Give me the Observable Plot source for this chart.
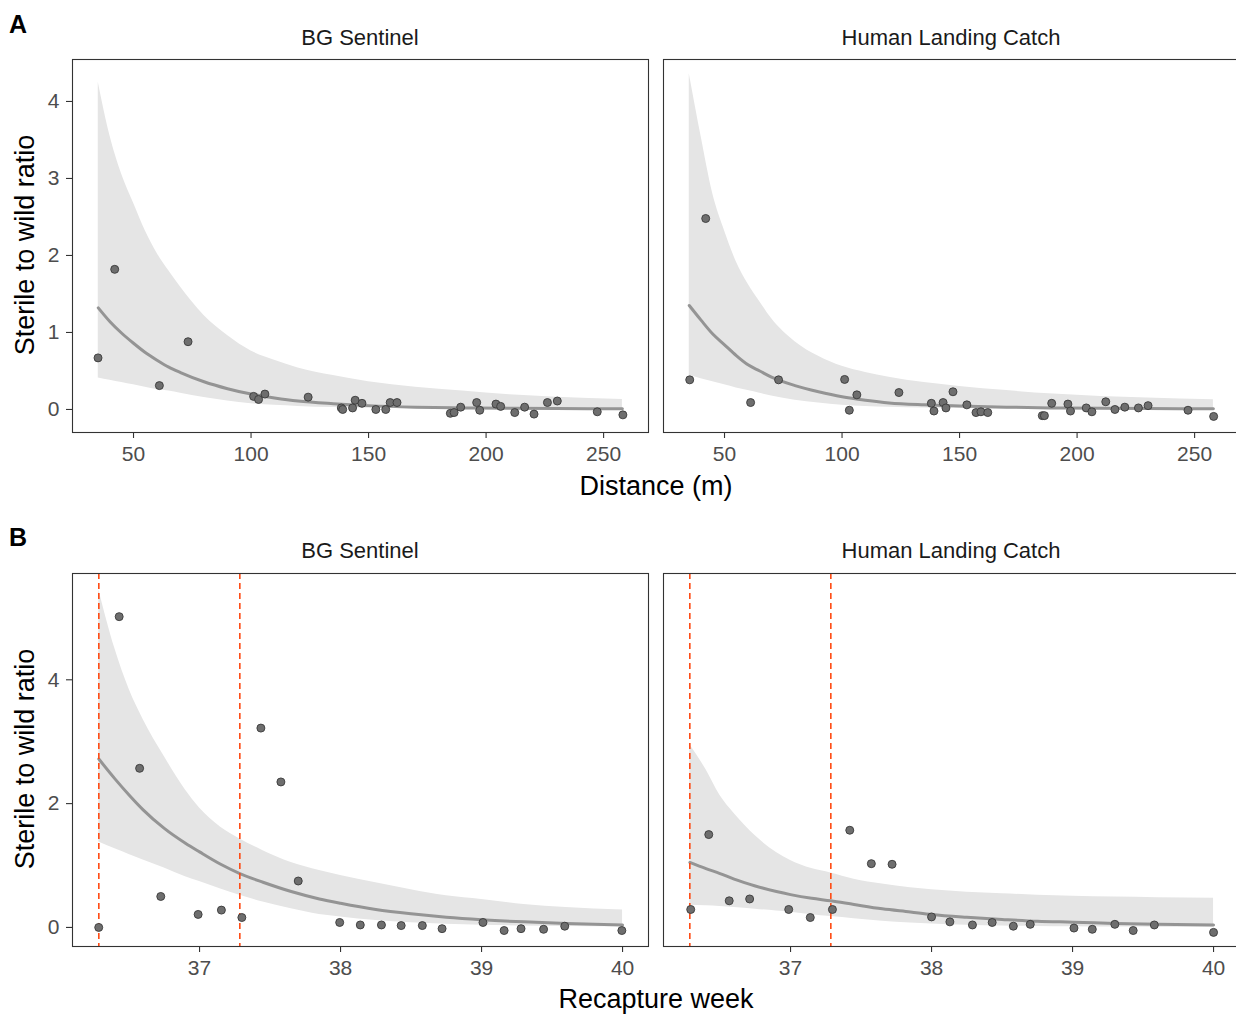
<!DOCTYPE html>
<html>
<head>
<meta charset="utf-8">
<script src="https://cdn.jsdelivr.net/npm/d3@7"></script>
<script src="https://cdn.jsdelivr.net/npm/@observablehq/plot@0.6"></script>
<style>
  html, body { margin: 0; padding: 0; background: #fff; }
  #wrap { position: relative; width: 1236px; height: 1014px; overflow: hidden; background: #fff;
          font-family: "Liberation Sans", Arial, Helvetica, sans-serif; }
  .abs { position: absolute; white-space: nowrap; line-height: 1; }
  .c { transform: translate(-50%, -50%); }
  .strip { font-size: 22px; color: #1a1a1a; }
  .tag { font-size: 25px; font-weight: bold; color: #000; transform: translate(0, -50%); }
  .xt { font-size: 27px; color: #000; }
  .yt { font-size: 27px; color: #000; transform: translate(-50%, -50%) rotate(-90deg); }
</style>
</head>
<body>
<div id="wrap"></div>
<script>
// ---------- Panel A data: distance (m) vs sterile:wild ratio ----------
const facets = ["BG Sentinel", "Human Landing Catch"];

const distBG = [34.9, 42.0, 61.0, 73.2, 101.1, 103.2, 105.9, 124.3, 138.4, 139.0, 143.2, 144.3, 147.2, 153.1, 157.3, 159.2, 162.1, 184.8, 186.4, 189.2, 196.0, 197.3, 204.2, 206.2, 212.2, 216.4, 220.4, 226.1, 230.3, 247.3, 258.2];
const ratioDistBG = [0.67, 1.82, 0.31, 0.88, 0.17, 0.13, 0.20, 0.16, 0.02, 0.00, 0.02, 0.12, 0.08, 0.00, 0.00, 0.09, 0.09, -0.05, -0.04, 0.03, 0.09, -0.01, 0.07, 0.04, -0.04, 0.03, -0.06, 0.09, 0.11, -0.03, -0.07];

const distHLC = [35.2, 42.0, 61.1, 73.0, 101.1, 103.1, 106.3, 124.2, 138.0, 139.1, 143.0, 144.2, 147.2, 153.1, 157.0, 159.1, 162.0, 185.2, 186.1, 189.2, 196.1, 197.2, 203.9, 206.3, 212.2, 216.1, 220.3, 226.1, 230.2, 247.2, 258.1];
const ratioDistHLC = [0.385, 2.48, 0.09, 0.385, 0.39, -0.01, 0.19, 0.22, 0.08, -0.02, 0.09, 0.02, 0.23, 0.06, -0.04, -0.03, -0.04, -0.08, -0.08, 0.08, 0.07, -0.02, 0.02, -0.03, 0.10, 0.00, 0.03, 0.02, 0.05, -0.01, -0.09];

// fitted curve and confidence band
const fitDist   = [35, 40, 45, 50, 55, 60, 65, 70, 80, 90, 100, 110, 120, 135, 150, 170, 190, 210, 230, 258];
const fitDistBG   = [1.32, 1.14, 0.99, 0.86, 0.74, 0.64, 0.55, 0.48, 0.36, 0.27, 0.20, 0.15, 0.11, 0.075, 0.05, 0.03, 0.02, 0.015, 0.012, 0.01];
const loDistBG    = [0.41, 0.38, 0.35, 0.32, 0.29, 0.26, 0.24, 0.21, 0.155, 0.11, 0.075, 0.055, 0.04, 0.025, 0.015, 0.008, 0.005, 0.003, 0.002, 0.001];
const hiDistBG    = [4.25, 3.55, 3.05, 2.68, 2.32, 2.03, 1.80, 1.59, 1.22, 0.96, 0.76, 0.64, 0.54, 0.44, 0.36, 0.29, 0.24, 0.19, 0.16, 0.13];
const fitDistHLC  = [1.35, 1.16, 0.98, 0.84, 0.70, 0.58, 0.50, 0.42, 0.31, 0.23, 0.165, 0.12, 0.085, 0.06, 0.045, 0.03, 0.02, 0.015, 0.012, 0.01];
const loDistHLC   = [0.44, 0.40, 0.36, 0.32, 0.28, 0.245, 0.21, 0.175, 0.12, 0.085, 0.055, 0.04, 0.028, 0.018, 0.012, 0.007, 0.004, 0.003, 0.002, 0.001];
const hiDistHLC   = [4.36, 3.55, 2.80, 2.32, 1.92, 1.63, 1.40, 1.18, 0.88, 0.69, 0.56, 0.48, 0.42, 0.35, 0.30, 0.245, 0.20, 0.17, 0.15, 0.125];

const distTicks = [50, 100, 150, 200, 250];
const distYTicks = [0, 1, 2, 3, 4];

// ---------- Panel B data: recapture week vs sterile:wild ratio ----------
const weekBG = [36.285, 36.43, 36.575, 36.725, 36.99, 37.155, 37.30, 37.435, 37.577, 37.70, 37.994, 38.14, 38.29, 38.43, 38.58, 38.72, 39.01, 39.16, 39.28, 39.44, 39.59, 39.995];
const ratioWeekBG = [0.00, 5.02, 2.57, 0.50, 0.21, 0.28, 0.16, 3.22, 2.35, 0.75, 0.08, 0.04, 0.04, 0.03, 0.03, -0.02, 0.08, -0.05, -0.02, -0.03, 0.02, -0.05];

const weekHLC = [36.292, 36.42, 36.565, 36.71, 36.987, 37.14, 37.297, 37.42, 37.573, 37.72, 38.0, 38.13, 38.29, 38.43, 38.58, 38.70, 39.01, 39.14, 39.30, 39.43, 39.58, 40.0];
const ratioWeekHLC = [0.29, 1.50, 0.43, 0.46, 0.29, 0.16, 0.29, 1.57, 1.03, 1.02, 0.17, 0.09, 0.04, 0.08, 0.02, 0.05, -0.01, -0.03, 0.05, -0.05, 0.04, -0.08];

const fitWeek = [36.2857, 36.4, 36.5, 36.6, 36.75, 36.9, 37.0, 37.15, 37.2857, 37.45, 37.65, 37.85, 38.0, 38.25, 38.5, 38.75, 39.0, 39.3, 39.6, 40.0];
const fitWeekBG  = [2.72, 2.40, 2.14, 1.90, 1.60, 1.36, 1.22, 1.02, 0.87, 0.73, 0.58, 0.46, 0.39, 0.29, 0.22, 0.165, 0.125, 0.09, 0.065, 0.04];
const loWeekBG   = [1.38, 1.27, 1.18, 1.09, 0.96, 0.82, 0.74, 0.62, 0.52, 0.41, 0.30, 0.21, 0.17, 0.11, 0.075, 0.05, 0.035, 0.022, 0.014, 0.01];
const hiWeekBG   = [5.45, 4.50, 3.85, 3.36, 2.76, 2.22, 1.93, 1.62, 1.43, 1.24, 1.05, 0.92, 0.84, 0.72, 0.61, 0.51, 0.45, 0.37, 0.32, 0.28];
const fitWeekHLC = [1.05, 0.95, 0.87, 0.78, 0.67, 0.58, 0.53, 0.47, 0.43, 0.37, 0.30, 0.25, 0.21, 0.165, 0.13, 0.10, 0.085, 0.065, 0.05, 0.04];
const loWeekHLC  = [0.36, 0.35, 0.34, 0.32, 0.295, 0.265, 0.245, 0.205, 0.175, 0.14, 0.10, 0.07, 0.055, 0.035, 0.022, 0.015, 0.01, 0.006, 0.004, 0.002];
const hiWeekHLC  = [2.95, 2.55, 2.13, 1.84, 1.48, 1.21, 1.08, 0.95, 0.88, 0.78, 0.70, 0.64, 0.61, 0.57, 0.545, 0.52, 0.505, 0.49, 0.48, 0.47];

const releaseWeeks = [36.2857, 37.2857];
const weekTicks = [37, 38, 39, 40];
const weekYTicks = [0, 2, 4];

// ---------- rendering ----------
const wrap = document.getElementById("wrap");
const FONT = "'Liberation Sans', Arial, Helvetica, sans-serif";
const fmt = d => String(d);

function toPts(xs, ys) { return xs.map((x, i) => ({x, y: ys[i]})); }
function toBand(xs, fit, lo, hi) { return xs.map((x, i) => ({x, fit: fit[i], lo: lo[i], hi: hi[i]})); }

function panel({xDomain, yDomain, xTicks, yTicks, showY, pts, band, vlines, left, top}) {
  const marks = [
    Plot.areaY(band, {x: "x", y1: "lo", y2: "hi", fill: "#e5e5e5", curve: "monotone-x"}),
    Plot.line(band, {x: "x", y: "fit", stroke: "#949494", strokeWidth: 3, curve: "monotone-x"})
  ];
  if (vlines) marks.push(Plot.ruleX(vlines, {stroke: "#ff4a12", strokeWidth: 1.6, strokeDasharray: "6,4"}));
  marks.push(Plot.dot(pts, {x: "x", y: "y", r: 4, fill: "#6e6e6e", stroke: "#3a3a3a", strokeWidth: 0.9}));
  marks.push(Plot.frame({stroke: "#333", strokeWidth: 1.1}));
  marks.push(Plot.axisX({ticks: xTicks, tickFormat: fmt, tickSize: 6, tickPadding: 8, fontSize: 21, fill: "#4d4d4d", stroke: "#333", strokeWidth: 1.1, label: null}));
  if (showY) marks.push(Plot.axisY({ticks: yTicks, tickFormat: fmt, tickSize: 6, tickPadding: 7, fontSize: 21, fill: "#4d4d4d", stroke: "#333", strokeWidth: 1.1, label: null}));
  const svg = Plot.plot({
    width: 660, height: 470,
    marginLeft: 72, marginRight: 12, marginTop: 59, marginBottom: 38,
    x: {domain: xDomain, label: null, axis: null},
    y: {domain: yDomain, label: null, axis: null},
    style: {fontFamily: FONT, background: "transparent", overflow: "visible"},
    marks
  });
  svg.style.position = "absolute";
  svg.style.left = left + "px";
  svg.style.top = top + "px";
  wrap.appendChild(svg);
}

const xDomA = [24.04, 269.1], yDomA = [-0.299, 4.545];
const xDomB = [36.099, 40.184], yDomB = [-0.308, 5.717];

panel({xDomain: xDomA, yDomain: yDomA, xTicks: distTicks, yTicks: distYTicks, showY: true,
       pts: toPts(distBG, ratioDistBG), band: toBand(fitDist, fitDistBG, loDistBG, hiDistBG), left: 0, top: 0});
panel({xDomain: xDomA, yDomain: yDomA, xTicks: distTicks, yTicks: distYTicks, showY: false,
       pts: toPts(distHLC, ratioDistHLC), band: toBand(fitDist, fitDistHLC, loDistHLC, hiDistHLC), left: 591, top: 0});
panel({xDomain: xDomB, yDomain: yDomB, xTicks: weekTicks, yTicks: weekYTicks, showY: true,
       pts: toPts(weekBG, ratioWeekBG), band: toBand(fitWeek, fitWeekBG, loWeekBG, hiWeekBG), vlines: releaseWeeks, left: 0, top: 514});
panel({xDomain: xDomB, yDomain: yDomB, xTicks: weekTicks, yTicks: weekYTicks, showY: false,
       pts: toPts(weekHLC, ratioWeekHLC), band: toBand(fitWeek, fitWeekHLC, loWeekHLC, hiWeekHLC), vlines: releaseWeeks, left: 591, top: 514});

function label(text, cls, x, y) {
  const d = document.createElement("div");
  d.className = "abs " + cls;
  d.textContent = text;
  d.style.left = x + "px";
  d.style.top = y + "px";
  wrap.appendChild(d);
}
label("A", "tag", 9, 24);
label("B", "tag", 9, 537);
label(facets[0], "strip c", 360, 38);
label(facets[1], "strip c", 951, 38);
label(facets[0], "strip c", 360, 551);
label(facets[1], "strip c", 951, 551);
label("Distance (m)", "xt c", 656, 486);
label("Recapture week", "xt c", 656, 999);
label("Sterile to wild ratio", "yt", 25, 245);
label("Sterile to wild ratio", "yt", 25, 759);
</script>
</body>
</html>
